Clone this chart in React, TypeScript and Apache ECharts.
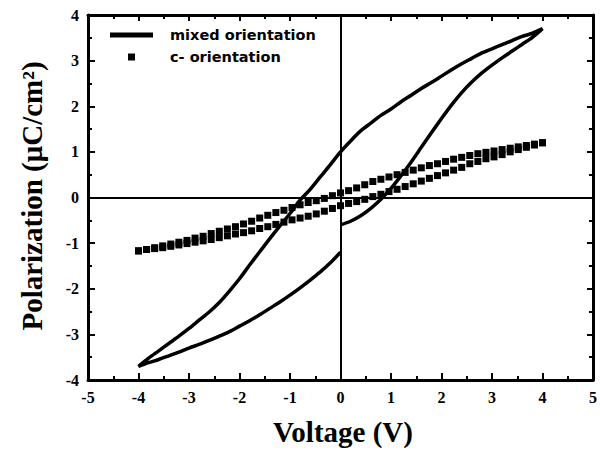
import React, { useEffect, useRef } from "react";
import * as echarts from "echarts";

// mixed orientation: hysteresis loop, traced in measurement order
const mixedV: number[] = [
  0, 0.2, 0.4, 0.6, 0.8, 1.0, 1.2, 1.4, 1.6, 1.8, 2.0, 2.2, 2.4, 2.6, 2.8, 3.0, 3.2, 3.4, 3.6, 3.8, 4.0,
  3.8, 3.6, 3.4, 3.2, 3.0, 2.8, 2.6, 2.4, 2.2, 2.0, 1.8, 1.6, 1.4, 1.2, 1.0, 0.8, 0.6, 0.4, 0.2, 0,
  -0.2, -0.4, -0.6, -0.8, -1.0, -1.2, -1.4, -1.6, -1.8, -2.0, -2.2, -2.4, -2.6, -2.8, -3.0, -3.2, -3.4, -3.6, -3.8, -4.0,
  -3.8, -3.6, -3.4, -3.2, -3.0, -2.8, -2.6, -2.4, -2.2, -2.0, -1.8, -1.6, -1.4, -1.2, -1.0, -0.8, -0.6, -0.4, -0.2, 0,
];
const mixedP: number[] = [
  -0.6, -0.52, -0.4, -0.24, -0.04, 0.2, 0.48, 0.78, 1.1, 1.42, 1.73, 2.03, 2.3, 2.53, 2.73, 2.9, 3.06, 3.21, 3.36, 3.51, 3.7,
  3.6, 3.53, 3.44, 3.35, 3.26, 3.17, 3.05, 2.93, 2.8, 2.66, 2.52, 2.39, 2.24, 2.1, 1.94, 1.8, 1.63, 1.46, 1.24, 1.0,
  0.72, 0.45, 0.18, -0.06, -0.35, -0.62, -0.9, -1.19, -1.48, -1.78, -2.05, -2.3, -2.51, -2.69, -2.87, -3.04, -3.2, -3.36, -3.52, -3.7,
  -3.62, -3.55, -3.47, -3.39, -3.3, -3.22, -3.13, -3.04, -2.94, -2.82, -2.7, -2.57, -2.43, -2.29, -2.14, -1.98, -1.81, -1.63, -1.43, -1.2,
];

// c- orientation: voltage steps of the sweep
const cV: number[] = [
  -4, -3.84, -3.68, -3.52, -3.36, -3.2, -3.04, -2.88, -2.72, -2.56, -2.4, -2.24, -2.08, -1.92, -1.76, -1.6, -1.44,
  -1.28, -1.12, -0.96, -0.8, -0.64, -0.48, -0.32, -0.16, 0, 0.16, 0.32, 0.48, 0.64, 0.8, 0.96, 1.12, 1.28, 1.44,
  1.6, 1.76, 1.92, 2.08, 2.24, 2.4, 2.56, 2.72, 2.88, 3.04, 3.2, 3.36, 3.52, 3.68, 3.84, 4.0,
];
// ascending branch (lower row)
const cUp: number[] = [
  -1.17, -1.14, -1.12, -1.1, -1.07, -1.04, -1.01, -0.98, -0.95, -0.92, -0.88, -0.84, -0.8, -0.77, -0.73, -0.68, -0.64,
  -0.59, -0.54, -0.49, -0.45, -0.41, -0.36, -0.3, -0.24, -0.18, -0.13, -0.09, -0.04, 0.02, 0.07, 0.13, 0.18, 0.24, 0.3,
  0.36, 0.42, 0.48, 0.54, 0.6, 0.66, 0.74, 0.79, 0.85, 0.89, 0.94, 1.0, 1.05, 1.1, 1.15, 1.2,
];
// descending branch (upper row), listed at the same voltages as cV
const cDown: number[] = [
  -1.17, -1.14, -1.1, -1.06, -1.02, -0.98, -0.94, -0.89, -0.85, -0.79, -0.74, -0.69, -0.64, -0.58, -0.52, -0.45, -0.39,
  -0.33, -0.28, -0.22, -0.16, -0.11, -0.07, -0.02, 0.04, 0.1, 0.15, 0.21, 0.28, 0.35, 0.4, 0.45, 0.5, 0.55, 0.6,
  0.65, 0.7, 0.74, 0.79, 0.84, 0.88, 0.92, 0.96, 0.99, 1.02, 1.05, 1.08, 1.11, 1.14, 1.17, 1.2,
];

const xTicks: number[] = [-5, -4, -3, -2, -1, 0, 1, 2, 3, 4, 5];
const yTicks: number[] = [-4, -3, -2, -1, 0, 1, 2, 3, 4];

const SERIF = "'Liberation Serif', 'Times New Roman', serif";
const SANS = "'DejaVu Sans', Verdana, sans-serif";

export default function App() {
  const ref = useRef<HTMLDivElement>(null);
  useEffect(() => {
    document.body.style.margin = "0";
    document.body.style.overflow = "hidden";
    if (!ref.current) return;
    const chart = echarts.init(ref.current, undefined, { renderer: "svg" });

    const mixedData = mixedV.map((v, i) => [v, mixedP[i]]);
    const cData = [
      ...cV.map((v, i) => [v, cUp[i]]),
      ...cV.map((v, i) => [v, cDown[i]]),
    ];

    const axisLine = { show: true, onZero: false, lineStyle: { color: "#000", width: 3 } };
    const tick = { show: true, inside: true, length: 7, lineStyle: { color: "#000", width: 2 } };
    const minor = { show: true, splitNumber: 2, length: 4, lineStyle: { color: "#000", width: 2 } };
    const lab = {
      color: "#000",
      fontFamily: SERIF,
      fontWeight: "bold" as const,
      fontSize: 16,
    };

    chart.setOption({
      animation: false,
      backgroundColor: "#fff",
      grid: { left: 88, right: 3, top: 15, bottom: 70 },
      xAxis: [
        {
          type: "value",
          min: xTicks[0],
          max: xTicks[xTicks.length - 1],
          interval: 1,
          position: "bottom",
          axisLine,
          axisTick: tick,
          minorTick: minor,
          splitLine: { show: false },
          axisLabel: { ...lab, margin: 9 },
        },
        {
          type: "value",
          min: xTicks[0],
          max: xTicks[xTicks.length - 1],
          interval: 1,
          position: "top",
          axisLine,
          axisTick: { ...tick, length: 6 },
          minorTick: minor,
          splitLine: { show: false },
          axisLabel: { show: false },
        },
      ],
      yAxis: [
        {
          type: "value",
          min: yTicks[0],
          max: yTicks[yTicks.length - 1],
          interval: 1,
          position: "left",
          axisLine,
          axisTick: tick,
          minorTick: minor,
          splitLine: { show: false },
          axisLabel: { ...lab, margin: 9 },
        },
        {
          type: "value",
          min: yTicks[0],
          max: yTicks[yTicks.length - 1],
          interval: 1,
          position: "right",
          axisLine,
          axisTick: { ...tick, length: 6 },
          minorTick: minor,
          splitLine: { show: false },
          axisLabel: { show: false },
        },
      ],
      series: [
        {
          name: "mixed orientation",
          type: "line",
          data: mixedData,
          smooth: 0.3,
          showSymbol: false,
          symbol: "none",
          lineStyle: { color: "#000", width: 3.5 },
          markLine: {
            silent: true,
            symbol: "none",
            label: { show: false },
            lineStyle: { color: "#000", width: 2, type: "solid" },
            data: [{ xAxis: 0 }, { yAxis: 0 }],
          },
        },
        {
          name: "c- orientation",
          type: "scatter",
          data: cData,
          symbol: "rect",
          symbolSize: 7,
          itemStyle: { color: "#000", opacity: 1 },
        },
      ],
      graphic: [
        {
          type: "line",
          shape: { x1: 110, y1: 35, x2: 153, y2: 35 },
          style: { stroke: "#000", lineWidth: 5 },
        },
        {
          type: "text",
          x: 170,
          y: 35,
          style: {
            text: "mixed orientation",
            fill: "#000",
            font: `bold 14.5px ${SANS}`,
            textVerticalAlign: "middle",
          },
        },
        {
          type: "rect",
          shape: { x: 128, y: 53.5, width: 7, height: 7 },
          style: { fill: "#000" },
        },
        {
          type: "text",
          x: 170,
          y: 57,
          style: {
            text: "c- orientation",
            fill: "#000",
            font: `bold 14.5px ${SANS}`,
            textVerticalAlign: "middle",
          },
        },
        {
          type: "text",
          x: 343,
          y: 432,
          style: {
            text: "Voltage (V)",
            fill: "#000",
            font: `bold 29px ${SERIF}`,
            textAlign: "center",
            textVerticalAlign: "middle",
          },
        },
        {
          type: "text",
          x: 32,
          y: 196,
          rotation: Math.PI / 2,
          style: {
            text: "Polarization (μC/cm²)",
            fill: "#000",
            font: `bold 29px ${SERIF}`,
            textAlign: "center",
            textVerticalAlign: "middle",
          },
        },
      ],
    });
    return () => chart.dispose();
  }, []);
  return <div ref={ref} style={{ width: 600, height: 450 }} />;
}
